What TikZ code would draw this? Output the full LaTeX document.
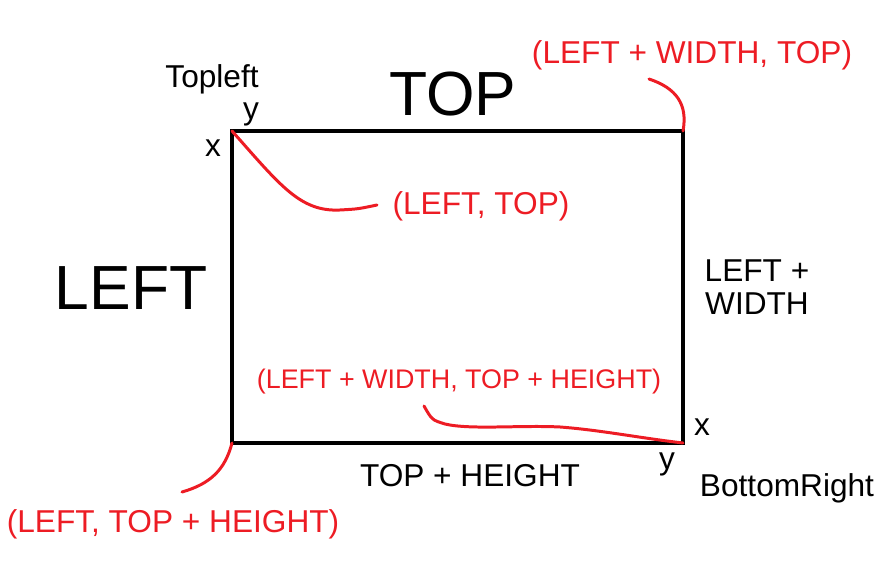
\documentclass[tikz,border=0pt]{standalone}
\usepackage{fontspec}
\setmainfont{Liberation Sans}
\usepackage{tikz}
\usetikzlibrary{positioning}

\definecolor{paintred}{RGB}{237,28,36}

\begin{document}
\begin{tikzpicture}[
  x=0.02cm, y=-0.02cm,
  lbl/.style={inner sep=0pt, align=center, font=\fontsize{18}{19}\selectfont},
  biglbl/.style={inner sep=0pt, font=\fontsize{35.5}{40}\selectfont},
  redlbl/.style={lbl, text=paintred},
  smallred/.style={redlbl, font=\fontsize{15.3}{17}\selectfont},
  frame/.style={draw, line width=2.8pt, line join=miter},
  pointer/.style={draw=paintred, line width=1.7pt, line cap=round}
]
\useasboundingbox (0,0) rectangle (883,573);

% corners of the rectangle
\coordinate (tl) at (232,131);
\coordinate (tr) at (683,131);
\coordinate (br) at (683,443);
\coordinate (bl) at (232,443);
\draw[frame] (tl) -- (tr) -- (br) -- (bl) -- cycle;

% black labels
\node[lbl]    (topleft) at (212,79)  {Topleft};
\node[biglbl] (top)     at (453,94)  {TOP};
\node[biglbl] (left)    at (131,288) {LEFT};
\node[lbl]    (y1)      at (251,114) {y};
\node[lbl]    (x1)      at (213,148) {x};
\node[lbl]    (lw)      at (757,287) {LEFT +\\WIDTH};
\node[lbl]    (x2)      at (702,427) {x};
\node[lbl]    (y2)      at (667,464) {y};
\node[lbl]    (th)      at (470,476) {TOP + HEIGHT};
\node[lbl]    (botright) at (787,488) {BottomRight};

% red labels
\node[redlbl]   (lt)   at (481,206) {(LEFT, TOP)};
\node[redlbl]   (lwt)  at (692,55)  {(LEFT + WIDTH, TOP)};
\node[smallred] (lwth) at (459,382) {(LEFT + WIDTH, TOP + HEIGHT)};
\node[redlbl]   (lth)  at (173,524) {(LEFT, TOP + HEIGHT)};

% free ends of the pointers
\coordinate (ltend)   at (377,205);
\coordinate (lwtend)  at (649,79);
\coordinate (lwthend) at (424,406);
\coordinate (lthend)  at (182,492);

\draw[pointer] (tl) .. controls (280,185) and (300,212) .. (340,210)
  .. controls (358,209) .. (ltend);
\draw[pointer] (tr) .. controls (688,104) and (676,88) .. (lwtend);
\draw[pointer] (br) .. controls (640,438) and (600,430) .. (560,427)
  .. controls (520,425) and (470,430) .. (445,424)
  .. controls (432,420) .. (lwthend);
\draw[pointer] (bl) .. controls (225,470) and (210,484) .. (lthend);
\end{tikzpicture}
\end{document}
